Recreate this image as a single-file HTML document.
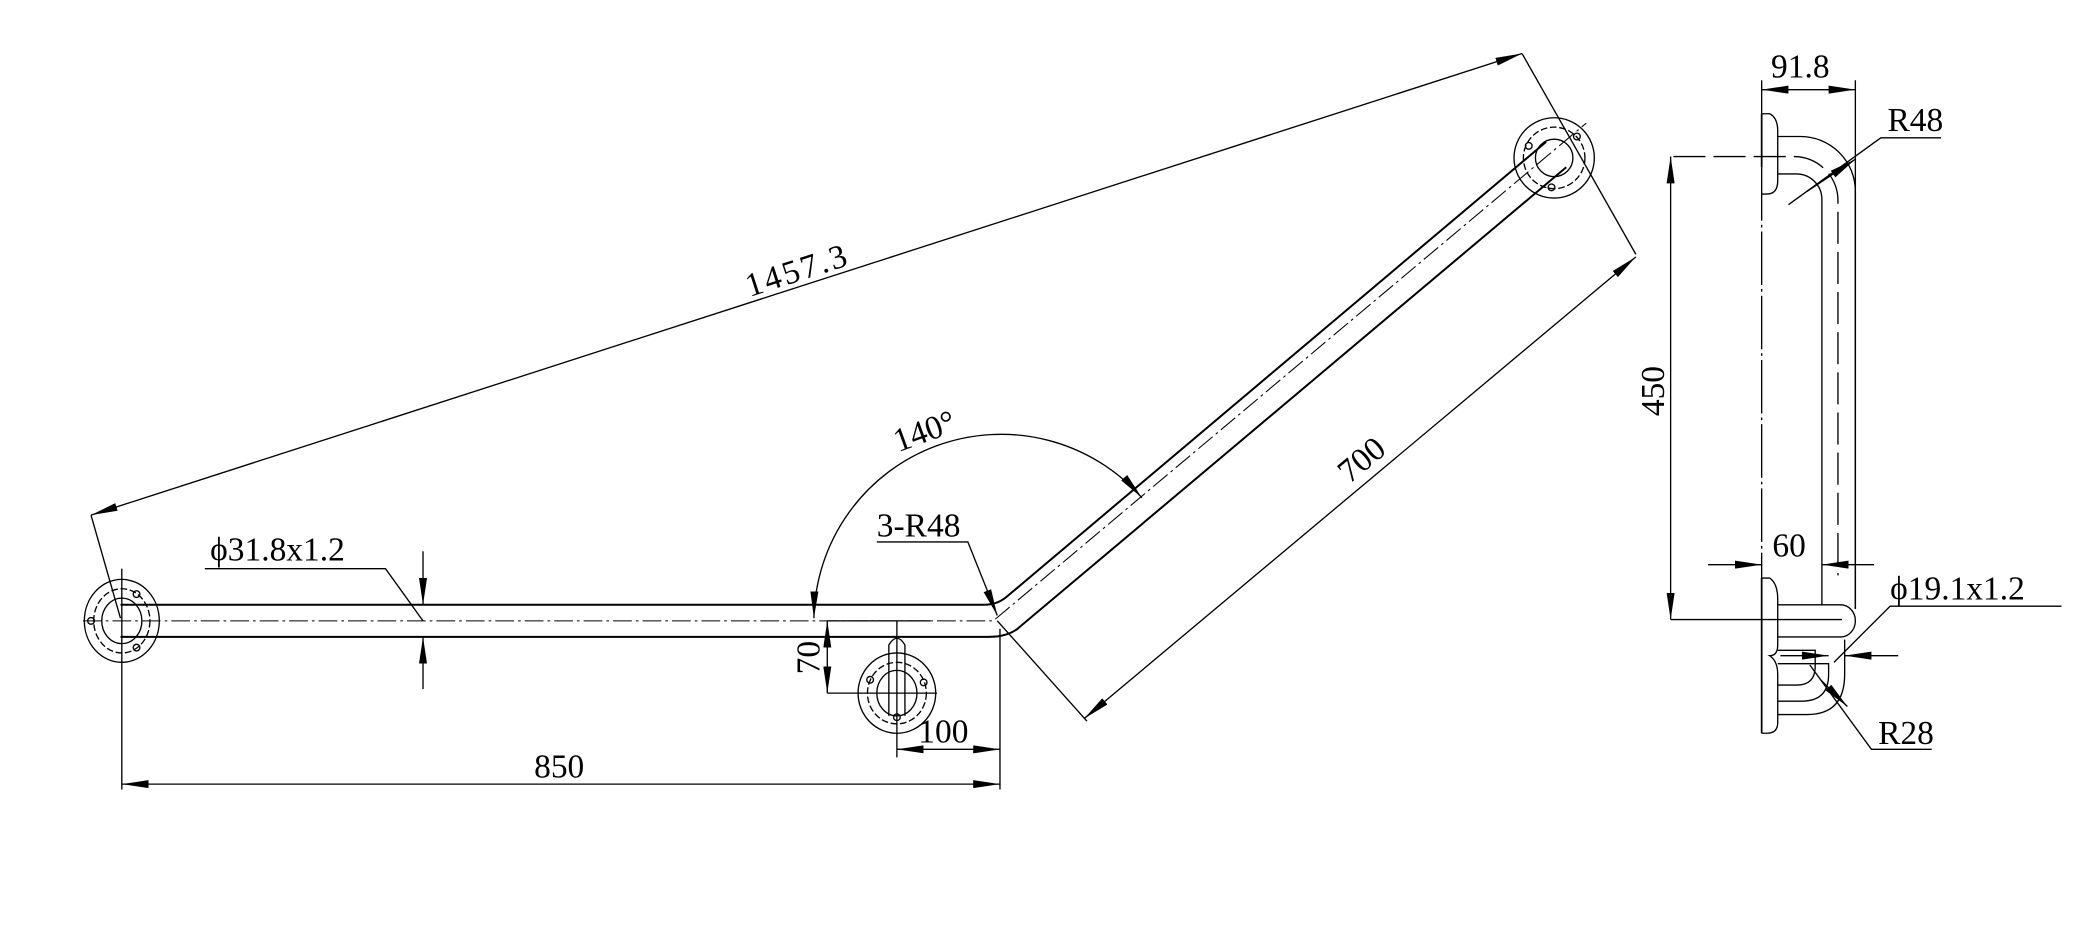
<!DOCTYPE html>
<html><head><meta charset="utf-8"><style>
html,body{margin:0;padding:0;background:#fff;}
svg{display:block;}
text{font-family:"Liberation Serif",serif;font-size:25px;fill:#000;}
</style></head><body>
<svg width="2099" height="942" viewBox="0 0 1568 704" preserveAspectRatio="none" xmlns="http://www.w3.org/2000/svg">
<defs>
<marker id="a" viewBox="0 0 20 6" refX="20" refY="3" markerWidth="20" markerHeight="6" markerUnits="userSpaceOnUse" orient="auto-start-reverse"><path d="M0,0 L20,3 L0,6 Z" fill="#000"/></marker>
</defs>
<rect width="1568" height="704" fill="#fff"/>
<g fill="none" stroke="#000" stroke-width="1">
<path d="M90,452 L735,452 Q745,452 752,446 L1155,106" stroke-width="1.5"/>
<path d="M90,476 L738,476 Q752,476 760,470 L1170,125" stroke-width="1.5"/>
<path d="M62,464 L742,464 L1185,92" stroke-dasharray="14,3,2,3" stroke-width="0.8"/>
<ellipse cx="91" cy="464" rx="28" ry="31"/>
<ellipse cx="91" cy="464" rx="21" ry="24" stroke-dasharray="5,2"/>
<ellipse cx="91" cy="464" rx="15" ry="17"/>
<circle cx="68" cy="464" r="2.5"/><circle cx="102" cy="444" r="2.5"/><circle cx="102" cy="484" r="2.5"/>
<line x1="91" y1="425" x2="91" y2="590"/>
<ellipse cx="670" cy="518" rx="29" ry="30"/>
<ellipse cx="670" cy="518" rx="22" ry="23" stroke-dasharray="5,2"/>
<ellipse cx="670" cy="518" rx="15" ry="17"/>
<circle cx="650" cy="508" r="2.5"/><circle cx="670" cy="536" r="2.5"/><circle cx="690" cy="510" r="2.5"/>
<path d="M664,535 L664,482 Q670,472 676,482 L676,535"/>
<line x1="670" y1="464" x2="670" y2="566"/>
<line x1="618" y1="464" x2="695" y2="464"/>
<line x1="618" y1="518" x2="700" y2="518"/>
<circle cx="1161" cy="118" r="30"/>
<circle cx="1161" cy="118" r="23" stroke-dasharray="5,2"/>
<circle cx="1161" cy="118" r="14"/>
<circle cx="1178" cy="102" r="2.5"/><circle cx="1142" cy="109" r="2.5"/><circle cx="1159" cy="140" r="2.5"/>
<line x1="68" y1="385" x2="1137" y2="40" marker-start="url(#a)" marker-end="url(#a)"/>
<line x1="68" y1="385" x2="90" y2="462"/>
<line x1="1137" y1="40" x2="1222" y2="190"/>
<line x1="810" y1="537" x2="1222" y2="192" marker-start="url(#a)" marker-end="url(#a)"/>
<line x1="745" y1="464" x2="812" y2="539"/>
<line x1="91" y1="586" x2="747" y2="586" marker-start="url(#a)" marker-end="url(#a)"/>
<line x1="747" y1="470" x2="747" y2="590"/>
<line x1="670" y1="560" x2="747" y2="560" marker-start="url(#a)" marker-end="url(#a)"/>
<line x1="618" y1="464" x2="618" y2="518" marker-start="url(#a)" marker-end="url(#a)"/>
<line x1="316" y1="412" x2="316" y2="452" marker-end="url(#a)"/>
<line x1="316" y1="515" x2="316" y2="476" marker-end="url(#a)"/>
<polyline points="153,425 288,425 316,464"/>
<path d="M608,462 A140,140 0 0 1 853,372" marker-start="url(#a)" marker-end="url(#a)"/>
<polyline points="655,405 723,405 745,460" marker-end="url(#a)"/>

<line x1="1316" y1="85" x2="1316" y2="125" stroke-width="1.3"/>
<line x1="1316" y1="125" x2="1316" y2="432" stroke-dasharray="40,3,2,3"/>
<line x1="1316" y1="432" x2="1316" y2="548" stroke-width="1.3"/>
<line x1="1316" y1="60" x2="1316" y2="85"/>
<line x1="1386" y1="60" x2="1386" y2="455"/>
<line x1="1316" y1="67" x2="1386" y2="67" marker-start="url(#a)" marker-end="url(#a)"/>
<path d="M1316,85 L1322,85 Q1328,88 1328,98 L1328,135 Q1328,145 1320,145 L1316,145"/>
<path d="M1316,432 L1322,432 Q1328,436 1328,448 L1328,482 Q1328,490 1322,490 Q1328,494 1328,504 L1328,540 Q1328,548 1320,548 L1316,548"/>
<path d="M1328,102 L1345,102 A41,41 0 0 1 1386,143 L1386,455"/>
<path d="M1328,130 L1342,130 A19,19 0 0 1 1361,149 L1361,452"/>
<path d="M1250,117 L1340,117 A33,33 0 0 1 1373,150 L1373,430" stroke-dasharray="24,6"/>
<line x1="1248" y1="117" x2="1248" y2="463" marker-start="url(#a)" marker-end="url(#a)"/>
<line x1="1248" y1="463" x2="1376" y2="463"/>
<path d="M1328,452 L1375,452 A11,12 0 0 1 1375,476 L1328,476"/>
<path d="M1328,486 L1356,486 L1356,498 Q1356,512 1342,512 L1328,512"/>
<path d="M1328,496 L1366,496 L1366,504 Q1366,524 1346,524 L1328,524"/>
<path d="M1378,478 L1378,504 Q1378,534 1350,534 L1328,534"/>
<line x1="1276" y1="422" x2="1316" y2="422" marker-end="url(#a)"/>
<line x1="1400" y1="422" x2="1361" y2="422" marker-end="url(#a)"/>
<line x1="1330" y1="490" x2="1366" y2="490" marker-end="url(#a)"/>
<line x1="1418" y1="490" x2="1378" y2="490" marker-end="url(#a)"/>
<polyline points="1540,453 1412,453 1370,495"/>
<polyline points="1443,560 1398,560 1352,497"/>
<line x1="1360" y1="508" x2="1380" y2="528" marker-end="url(#a)"/>
<polyline points="1450,103 1405,103 1336,153"/>
<line x1="1350" y1="143" x2="1386" y2="119" marker-end="url(#a)"/>
</g>
<text x="0" y="0" transform="translate(560,222) rotate(-17.9)" textLength="78">1457.3</text>
<text x="0" y="0" transform="translate(1008,362) rotate(-40)">700</text>
<text x="0" y="0" transform="translate(671,338) rotate(-20)">140°</text>
<text x="655" y="401">3-R48</text>
<text x="157" y="419">ϕ31.8x1.2</text>
<text x="399" y="581">850</text>
<text x="686" y="555">100</text>
<text x="0" y="0" transform="translate(612,504) rotate(-90)">70</text>
<text x="1323" y="58">91.8</text>
<text x="1410" y="98">R48</text>
<text x="0" y="0" transform="translate(1243,311) rotate(-90)">450</text>
<text x="1324" y="416">60</text>
<text x="1412" y="448">ϕ19.1x1.2</text>
<text x="1403" y="556">R28</text>
</svg>
</body></html>
